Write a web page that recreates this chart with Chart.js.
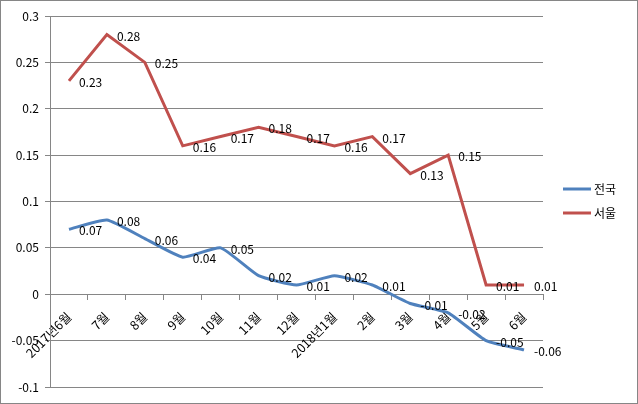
<!DOCTYPE html>
<html>
<head>
<meta charset="utf-8">
<script src="https://cdn.jsdelivr.net/npm/chart.js@4"></script>
<style>
  html, body { margin: 0; padding: 0; background: #fff; }
  #wrap { width: 638px; height: 404px; position: relative; }
</style>
</head>
<body>
<div id="wrap"><canvas id="chart"></canvas></div>
<script>
// months, Jun 2017 - Jun 2018
const months = ['2017년6월', '7월', '8월', '9월', '10월', '11월', '12월', '2018년1월', '2월', '3월', '4월', '5월', '6월'];
const nationwide = [0.07, 0.08, 0.06, 0.04, 0.05, 0.02, 0.01, 0.02, 0.01, -0.01, -0.02, -0.05, -0.06];
const seoul = [0.23, 0.28, 0.25, 0.16, 0.17, 0.18, 0.17, 0.16, 0.17, 0.13, 0.15, 0.01, 0.01];

var color_blue = '#4F81BD';
var color_red = '#C0504D';
var color_grid = '#868686';
const font_family = '"Noto Sans CJK KR", "DejaVu Sans", sans-serif';

// value labels to the right of every point
const valueLabels = {
    id: 'valueLabels',
    afterDatasetsDraw(chart) {
        const ctx = chart.ctx;
        ctx.save();
        ctx.font = '12px ' + font_family;
        ctx.fillStyle = '#000';
        ctx.textAlign = 'left';
        ctx.textBaseline = 'middle';
        chart.data.datasets.forEach((ds, i) => {
            chart.getDatasetMeta(i).data.forEach((pt, j) => {
                ctx.fillText(String(ds.data[j]), pt.x + 10, pt.y + 1.5);
            });
        });
        ctx.restore();
    }
};

// legend on the right + outer frame
const sideLegend = {
    id: 'sideLegend',
    afterDraw(chart) {
        const ctx = chart.ctx;
        ctx.save();
        ctx.font = '12px ' + font_family;
        ctx.textBaseline = 'middle';
        chart.data.datasets.forEach((ds, i) => {
            const y = 189 + i * 24;
            ctx.strokeStyle = ds.borderColor;
            ctx.lineWidth = 3;
            ctx.beginPath();
            ctx.moveTo(563, y);
            ctx.lineTo(591, y);
            ctx.stroke();
            ctx.fillStyle = '#000';
            ctx.fillText(ds.label, 594, y);
        });
        ctx.strokeStyle = color_grid;
        ctx.lineWidth = 1;
        ctx.strokeRect(0.5, 0.5, chart.width - 1, chart.height - 1);
        ctx.restore();
    }
};

const config = {
    type: 'line',
    data: {
        labels: months,
        datasets: [{
            label: '전국',
            data: nationwide,
            borderColor: color_blue,
            backgroundColor: color_blue,
            borderWidth: 3,
            pointRadius: 0,
            tension: 0.15,
        },
        {
            label: '서울',
            data: seoul,
            borderColor: color_red,
            backgroundColor: color_red,
            borderWidth: 3,
            pointRadius: 0,
            tension: 0,
        }]
    },
    plugins: [valueLabels, sideLegend],
    options: {
        responsive: true,
        maintainAspectRatio: false,
        animation: false,
        devicePixelRatio: 1,
        layout: {
            padding: { left: 0, right: 95, top: 16, bottom: 17 }
        },
        plugins: {
            legend: { display: false },
            tooltip: { enabled: false }
        },
        scales: {
            x: {
                type: 'category',
                position: { y: 0 },
                offset: true,
                grid: {
                    offset: true,
                    drawOnChartArea: false,
                    drawTicks: true,
                    tickLength: 5,
                    color: color_grid,
                },
                border: { color: color_grid },
                ticks: {
                    autoSkip: false,
                    minRotation: 45,
                    maxRotation: 45,
                    padding: 10,
                    color: '#000',
                    font: { size: 12.5, family: font_family }
                }
            },
            y: {
                min: -0.1,
                max: 0.3,
                afterFit(scale) { scale.width = 50; },
                grid: {
                    color: color_grid,
                    tickLength: 5,
                },
                border: { color: color_grid },
                ticks: {
                    stepSize: 0.05,
                    padding: 6,
                    color: '#000',
                    font: { size: 12, family: font_family },
                    callback: function (value) {
                        return Number(value.toFixed(2)).toString();
                    }
                }
            }
        }
    }
};

new Chart(document.getElementById('chart').getContext('2d'), config);
</script>
</body>
</html>
